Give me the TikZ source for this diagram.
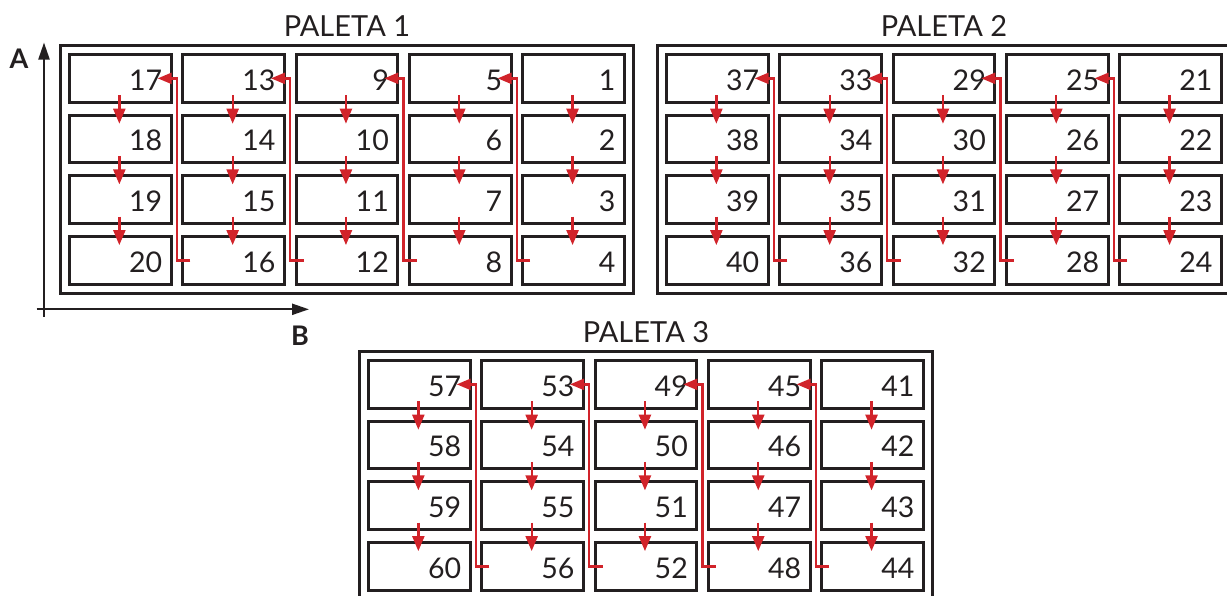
\documentclass[tikz,border=0pt]{standalone}
\usepackage{fontspec}
\setmainfont{Lato}
\usetikzlibrary{arrows.meta,fit,calc}
\definecolor{ink}{HTML}{231F20}
\definecolor{rd}{HTML}{D1232A}
\begin{document}
\begin{tikzpicture}[x=1pt,y=-1pt,
  cell/.style={draw=ink, line width=3pt, minimum width=101.7pt, minimum height=47.7pt,
    inner xsep=9pt, inner ysep=0pt, text width=83.7pt, align=right,
    text height=23.5pt, text depth=0pt, font=\fontsize{28.5}{30}\selectfont, text=ink},
  frame/.style={draw=ink, line width=2.8pt, inner sep=7.3pt},
  title/.style={text=ink, font=\fontsize{29}{31}\selectfont, inner sep=0pt},
  axislbl/.style={text=ink, font=\bfseries\fontsize{27}{29}\selectfont, inner sep=0pt},
  axisline/.style={draw=ink, line width=2.2pt},
  darr/.style={draw=rd, line width=2.3pt, -{Triangle[length=15pt,width=12pt]}},
  conn/.style={draw=rd, line width=2.3pt, line join=miter, -{Triangle[length=14pt,width=11pt]}}]
\useasboundingbox (0,0) rectangle (1227,595);

% cells
\foreach \p/\xo/\yo in {1/120.35/78.35, 2/717.35/78.35, 3/419.35/384.35} {
  \foreach \c in {1,...,5} {
    \foreach \r in {1,...,4} {
      \pgfmathtruncatemacro{\n}{(\p-1)*20+(5-\c)*4+\r}
      \node[cell] (p\p-\r-\c) at ({\xo+(\c-1)*113.3},{\yo+(\r-1)*60.7}) {\n};
    }
  }
}

% frames and titles
\node[frame, fit=(p1-1-1)(p1-4-5)] (f1) {};
\node[frame, fit=(p2-1-1)(p2-4-5)] (f2) {};
\node[frame, fit=(p3-1-1)(p3-4-5)] (f3) {};
\node[title, anchor=base] (t1) at ([yshift=8pt]f1.north) {PALETA 1};
\node[title, anchor=base] (t2) at ([yshift=8pt]f2.north) {PALETA 2};
\node[title, anchor=base] (t3) at ([yshift=8pt]f3.north) {PALETA 3};

% red arrows
\foreach \p in {1,2,3} {
  \foreach \c in {1,...,5} {
    \foreach \r/\s in {1/2,2/3,3/4} {
      \draw[darr] ([xshift=-1pt,yshift=8.5pt]p\p-\r-\c.south) -- ([xshift=-1pt,yshift=-10pt]p\p-\s-\c.north);
    }
  }
  \foreach \c/\d in {1/2,2/3,3/4,4/5} {
    \draw[conn] ([xshift=9pt]p\p-4-\d.west) -- ([xshift=-4.5pt]p\p-4-\d.west) |- ([xshift=-15pt]p\p-1-\c.east);
  }
}

% axes
\coordinate (ybot) at (44,316.7);
\coordinate (ytop) at (44,42.5);
\coordinate (xl) at (36.7,309.3);
\coordinate (xr) at (309,309.3);
\draw[axisline, -{Triangle[length=17pt,width=11pt]}] (ybot) -- (ytop);
\draw[axisline, -{Triangle[length=17pt,width=11pt]}] (xl) -- (xr);
\node[axislbl] (la) at (19,59) {A};
\node[axislbl] (lb) at (300,336) {B};
\end{tikzpicture}
\end{document}
